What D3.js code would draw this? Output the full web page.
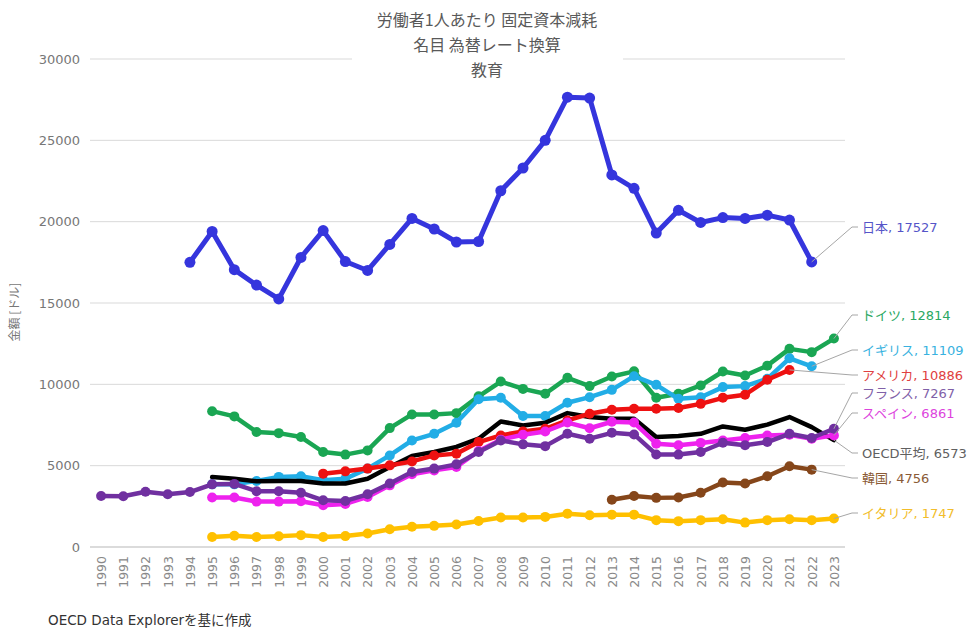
<!DOCTYPE html>
<html>
<head>
<meta charset="utf-8">
<script src="https://cdn.jsdelivr.net/npm/d3@7"></script>
<style>
  body { margin: 0; background: #fff; }
  svg { font-family: "Noto Sans CJK JP", "Noto Sans", sans-serif; }
  .num { font-family: "DejaVu Sans", "Noto Sans CJK JP", sans-serif; }
</style>
</head>
<body>
<div id="chart"></div>
<script>
// 年
var years = d3.range(1990, 2024);
var titleLines = ["労働者1人あたり 固定資本減耗", "名目 為替レート換算", "教育"];
var yTicks = [0, 5000, 10000, 15000, 20000, 25000, 30000];

// 系列 (開始年から)
var japan = [17500, 19400, 17050, 16100, 15250, 17800, 19450, 17550, 17000, 18600, 20200, 19550, 18750, 18780,
  21900, 23300, 25000, 27650, 27600, 22870, 22050, 19300, 20700, 19950, 20250, 20200, 20400, 20100, 17527];
var germany = [8350, 8030, 7070, 7000, 6760, 5840, 5680, 5940, 7310, 8150, 8150, 8230, 9260, 10170, 9720, 9420,
  10400, 9890, 10480, 10800, 9170, 9420, 9930, 10790, 10540, 11150, 12180, 11980, 12814];
var uk = [3850, 3850, 4060, 4310, 4350, 4100, 4200, 4820, 5630, 6550, 6960, 7640, 9080, 9170, 8050, 8050, 8870,
  9210, 9660, 10500, 9970, 9110, 9210, 9830, 9890, 10340, 11600, 11109];
var usa = [4510, 4650, 4820, 5020, 5260, 5630, 5740, 6450, 6860, 7100, 7270, 7780, 8190, 8440, 8500, 8500, 8540,
  8800, 9170, 9360, 10280, 10886];
var france = [3140, 3120, 3400, 3240, 3380, 3850, 3880, 3430, 3430, 3340, 2870, 2830, 3240, 3900, 4610, 4820, 5080,
  5840, 6550, 6310, 6200, 6960, 6660, 7020, 6920, 5690, 5680, 5840, 6410, 6250, 6450, 6960, 6700, 7267];
var spain = [3040, 3040, 2790, 2790, 2810, 2570, 2650, 3080, 3790, 4470, 4710, 4920, 5900, 6600, 6900, 7100, 7650,
  7300, 7700, 7650, 6350, 6250, 6400, 6550, 6700, 6860, 6900, 6650, 6861];
var oecd = [4300, 4200, 4040, 4060, 4060, 3900, 3900, 4200, 4920, 5600, 5840, 6150, 6660, 7720, 7470, 7640, 8230,
  7990, 7880, 7880, 6760, 6820, 6960, 7410, 7210, 7520, 7990, 7370, 6573];
var korea = [2910, 3140, 3020, 3040, 3330, 3960, 3900, 4350, 4960, 4756];
var italy = [620, 690, 620, 660, 730, 620, 670, 830, 1090, 1240, 1300, 1380, 1600, 1810, 1810, 1850, 2050, 1950,
  1990, 1990, 1650, 1590, 1650, 1710, 1500, 1650, 1710, 1650, 1747];

// 描画順
var series = [
  { name: "イタリア", start: 1995, values: italy, color: "#ffc000", text: "#f2bd2a", labelY: 513, dots: true },
  { name: "韓国", start: 2013, values: korea, color: "#85461a", text: "#8a5a36", labelY: 478, dots: true },
  { name: "ドイツ", start: 1995, values: germany, color: "#1aa653", text: "#2aa862", labelY: 315, dots: true },
  { name: "イギリス", start: 1995, values: uk, color: "#22ade6", text: "#38b2e0", labelY: 350, dots: true },
  { name: "OECD平均", start: 1995, values: oecd, color: "#000000", text: "#606060", labelY: 453, dots: false },
  { name: "アメリカ", start: 2000, values: usa, color: "#ee1111", text: "#e04040", labelY: 375, dots: true },
  { name: "スペイン", start: 1995, values: spain, color: "#ee22ee", text: "#dd44dd", labelY: 413, dots: true },
  { name: "フランス", start: 1990, values: france, color: "#7030a0", text: "#8060a8", labelY: 393, dots: true },
  { name: "日本", start: 1994, values: japan, color: "#3535dd", text: "#5555c8", labelY: 227, dots: true }
];

var width = 975, height = 636;
var xScale = d3.scalePoint().domain(years).range([90, 845]).padding(0.5);
var yScale = d3.scaleLinear().domain([0, 30000]).range([547, 59]);

var svg = d3.select("#chart").append("svg")
    .attr("width", width)
    .attr("height", height);

// grid
svg.append("g")
    .selectAll("line")
    .data(yTicks)
    .enter()
    .append("line")
    .attr("x1", 90)
    .attr("x2", 845)
    .attr("y1", d => yScale(d))
    .attr("y2", d => yScale(d))
    .attr("stroke", d => d == 0 ? "#cfcfcf" : "#d9d9d9")
    .attr("stroke-width", d => d == 0 ? 1.5 : 1);

// Y Axis
var yAxis = svg.append("g")
    .attr("class", "num")
    .attr("transform", "translate(90,0)")
    .call(d3.axisLeft(yScale).tickValues(yTicks).tickSize(0).tickPadding(10).tickFormat(d3.format("d")));
yAxis.select(".domain").remove();
yAxis.selectAll("text")
    .attr("font-size", 13)
    .attr("fill", "#777");

svg.append("text")
    .attr("transform", "translate(19,312) rotate(-90)")
    .attr("text-anchor", "middle")
    .attr("font-size", 12)
    .attr("fill", "#777")
    .text("金額 [ドル]");

// X Axis
var xAxis = svg.append("g")
    .attr("class", "num")
    .attr("transform", "translate(0,547)")
    .call(d3.axisBottom(xScale).tickSize(0).tickPadding(0));
xAxis.select(".domain").remove();
xAxis.selectAll("text")
    .attr("font-size", 12.5)
    .attr("fill", "#888")
    .attr("text-anchor", "end")
    .attr("dy", "0.35em")
    .attr("transform", "translate(0,9) rotate(-90)")
    .attr("x", 0)
    .attr("y", 0);

var line = d3.line()
    .defined(d => d.value != null)
    .x(d => xScale(d.year))
    .y(d => yScale(d.value));

series.forEach(function (s) {
  s.points = s.values.map((v, i) => ({ year: s.start + i, value: v }));
});

var lines = svg.append("g").attr("class", "lines");
series.forEach(function (s) {
  var g = lines.append("g");
  g.append("path")
      .attr("d", line(s.points))
      .attr("fill", "none")
      .attr("stroke", s.color)
      .attr("stroke-width", s.name == "日本" ? 5 : 4.5)
      .attr("stroke-linejoin", "round")
      .attr("stroke-linecap", "round");
  if (s.dots) {
    g.selectAll("circle")
        .data(s.points)
        .enter()
        .append("circle")
        .attr("cx", d => xScale(d.year))
        .attr("cy", d => yScale(d.value))
        .attr("r", s.name == "日本" ? 5.5 : 5)
        .attr("fill", s.color);
  }
});

// 右のラベル
var labels = svg.append("g").attr("class", "num");
series.forEach(function (s) {
  var last = s.points[s.points.length - 1];
  var px = xScale(last.year), py = yScale(last.value);
  labels.append("polyline")
      .attr("points", [[px, py], [852, s.labelY], [858, s.labelY]].map(p => p.join(",")).join(" "))
      .attr("fill", "none")
      .attr("stroke", "#a6a6a6")
      .attr("stroke-width", 1);
  labels.append("text")
      .attr("x", 862)
      .attr("y", s.labelY)
      .attr("dy", "0.35em")
      .attr("font-size", 13)
      .attr("fill", s.text)
      .text(s.name + ", " + last.value);
});

// title
svg.append("rect")
    .attr("x", 352)
    .attr("y", 4)
    .attr("width", 271)
    .attr("height", 78)
    .attr("fill", "#fff");
svg.append("g")
    .selectAll("text")
    .data(titleLines)
    .enter()
    .append("text")
    .attr("x", 487)
    .attr("y", (d, i) => 20 + i * 25)
    .attr("dy", "0.35em")
    .attr("text-anchor", "middle")
    .attr("font-size", 16)
    .attr("fill", "#595959")
    .text(d => d);

svg.append("text")
    .attr("class", "num")
    .attr("x", 48)
    .attr("y", 620)
    .attr("dy", "0.35em")
    .attr("font-size", 13.5)
    .attr("fill", "#333")
    .text("OECD Data Explorerを基に作成");
</script>
</body>
</html>
